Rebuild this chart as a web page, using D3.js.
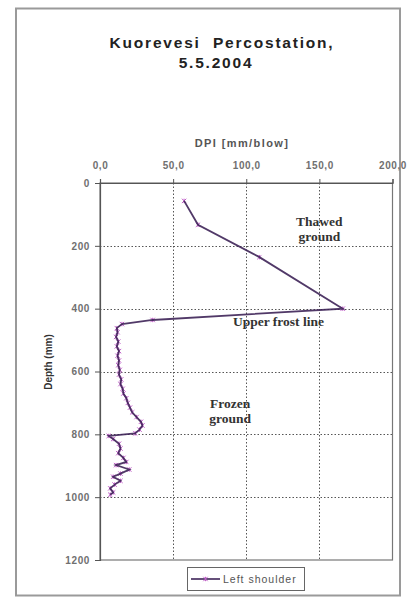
<!DOCTYPE html>
<html><head><meta charset="utf-8">
<script src="https://cdn.jsdelivr.net/npm/d3@7"></script>
<style>body{margin:0;background:#fff}svg{display:block}</style>
</head><body>
<svg id="c" width="409" height="597"></svg>
<script>
const titleLines = ["Kuorevesi  Percostation,", "5.5.2004"];
const xTitle = "DPI [mm/blow]";
const yTitle = "Depth (mm)";
const seriesName = "Left shoulder";
const xTicks = [0, 50, 100, 150, 200];
const yTicks = [0, 200, 400, 600, 800, 1000, 1200];
// DPI values (mm/blow) and depths (mm)
const dpi = [57.5, 67, 109, 166, 36, 15, 11.5, 12, 11, 12.5, 11.5, 13, 12, 13, 12.5, 13.5, 13, 14.5, 14, 15.5, 16, 18, 19, 20.5, 22, 25, 28, 29, 27, 24, 6, 9, 13, 14, 12.5, 16, 18, 11, 20, 14, 9, 14, 10, 7, 9, 7];
const depth = [57, 133, 236, 400, 436, 449, 462, 475, 490, 505, 520, 535, 550, 565, 580, 595, 610, 625, 640, 655, 670, 685, 700, 715, 730, 745, 760, 772, 785, 797, 805, 815, 830, 845, 860, 875, 888, 898, 912, 925, 935, 948, 960, 972, 985, 992];
const annotations = [
  {lines: ["Thawed", "ground"], x: 150, y: 137},
  {lines: ["Upper frost line"], x: 122, y: 455},
  {lines: ["Frozen", "ground"], x: 89, y: 716}
];

const svg = d3.select("#c");
const L = 100, R = 392.5, T = 183, B = 560;
const x = d3.scaleLinear().domain([0, 200]).range([L, R]);
const y = d3.scaleLinear().domain([0, 1200]).range([T, B]);
const SANS = "Liberation Sans, Arial, sans-serif";

// outer chart border
svg.append("rect").attr("x", 16).attr("y", 8.5).attr("width", 384).attr("height", 587)
  .attr("fill", "#fff").attr("stroke", "#9a9a9a").attr("stroke-width", 2);

// title
[[titleLines[0], 222, 48], [titleLines[1], 216, 68]].forEach(([t, tx, ty]) => {
  svg.append("text").attr("x", tx).attr("y", ty).attr("text-anchor", "middle")
    .attr("font-family", SANS).attr("font-weight", "bold")
    .attr("font-size", 15.5).attr("letter-spacing", 1.8).attr("fill", "#222")
    .style("white-space", "pre").text(t);
});

// gridlines
const grid = svg.append("g").attr("stroke", "#555").attr("stroke-width", 1).attr("stroke-dasharray", "1.5,2");
grid.selectAll("line.v").data(xTicks.slice(1, -1)).join("line")
  .attr("x1", d => Math.round(x(d)) + 0.5).attr("x2", d => Math.round(x(d)) + 0.5).attr("y1", T).attr("y2", B);
grid.selectAll("line.h").data(yTicks.slice(1, -1)).join("line")
  .attr("y1", d => Math.round(y(d)) + 0.5).attr("y2", d => Math.round(y(d)) + 0.5).attr("x1", L).attr("x2", R);

// plot frame
svg.append("rect").attr("x", L).attr("y", T).attr("width", R - L).attr("height", B - T)
  .attr("fill", "none").attr("stroke", "#777").attr("stroke-width", 1.2);

// axes
const xAxis = d3.axisTop(x).tickValues(xTicks).tickSize(4).tickFormat(d => d3.format(".1f")(d).replace(".", ","));
const gx = svg.append("g").attr("transform", `translate(0,${T})`).call(xAxis);
const yAxis = d3.axisLeft(y).tickValues(yTicks).tickSize(5).tickFormat(d3.format("d"));
const gy = svg.append("g").attr("transform", `translate(${L},0)`).call(yAxis);
[gx, gy].forEach(g => {
  g.select(".domain").attr("stroke", "#555").attr("stroke-width", 1.2);
  g.selectAll(".tick line").attr("stroke", "#555");
  g.selectAll("text").attr("font-family", SANS).attr("font-size", 10).attr("letter-spacing", 0.6)
    .attr("fill", "#707070").style("font-weight", "bold");
});
gx.selectAll("text").attr("dy", "-0.75em");
gy.selectAll("text").attr("dx", "-2");

// axis titles
svg.append("text").attr("x", 242).attr("y", 147).attr("text-anchor", "middle")
  .attr("font-family", SANS).attr("font-weight", "bold").attr("letter-spacing", 1.4)
  .attr("font-size", 11).attr("fill", "#555").text(xTitle);
svg.append("text").attr("transform", "translate(52,362) rotate(-90)").attr("text-anchor", "middle")
  .attr("font-family", SANS).attr("font-weight", "bold")
  .attr("font-size", 10).attr("fill", "#333").text(yTitle);

// series
const pts = dpi.map((v, i) => [v, depth[i]]);
const line = d3.line().x(d => x(d[0])).y(d => y(d[1]));
function star(g, cx, cy, s) {
  g.append("path").attr("d", `M${cx - s},${cy - s}L${cx + s},${cy + s}M${cx - s},${cy + s}L${cx + s},${cy - s}M${cx},${cy - s}L${cx},${cy + s}`)
    .attr("stroke", "#c060c8").attr("stroke-width", 1).attr("fill", "none");
}
const mk = svg.append("g");
pts.forEach(d => star(mk, x(d[0]), y(d[1]), 2.2));
svg.append("path").datum(pts).attr("d", line).attr("fill", "none")
  .attr("stroke", "#3e2458").attr("stroke-width", 1.8).attr("stroke-opacity", 0.9);

// annotations
annotations.forEach(a => {
  a.lines.forEach((t, i) => {
    svg.append("text").attr("x", x(a.x)).attr("y", y(a.y) + i * 15).attr("text-anchor", "middle")
      .attr("font-family", "Liberation Serif, Times New Roman, serif").attr("font-weight", "bold")
      .attr("font-size", 13.5).attr("fill", "#333").text(t);
  });
});

// legend
svg.append("rect").attr("x", 187.5).attr("y", 567.5).attr("width", 117).attr("height", 23)
  .attr("fill", "#fff").attr("stroke", "#666").attr("stroke-width", 1);
svg.append("line").attr("x1", 191).attr("x2", 220).attr("y1", 579).attr("y2", 579)
  .attr("stroke", "#3e2458").attr("stroke-width", 1.6);
star(svg, 205.5, 579, 2.2);
svg.append("text").attr("x", 223).attr("y", 582.5)
  .attr("font-family", SANS).attr("font-size", 10.5).attr("letter-spacing", 1)
  .attr("fill", "#555").text(seriesName);
</script>
</body></html>
